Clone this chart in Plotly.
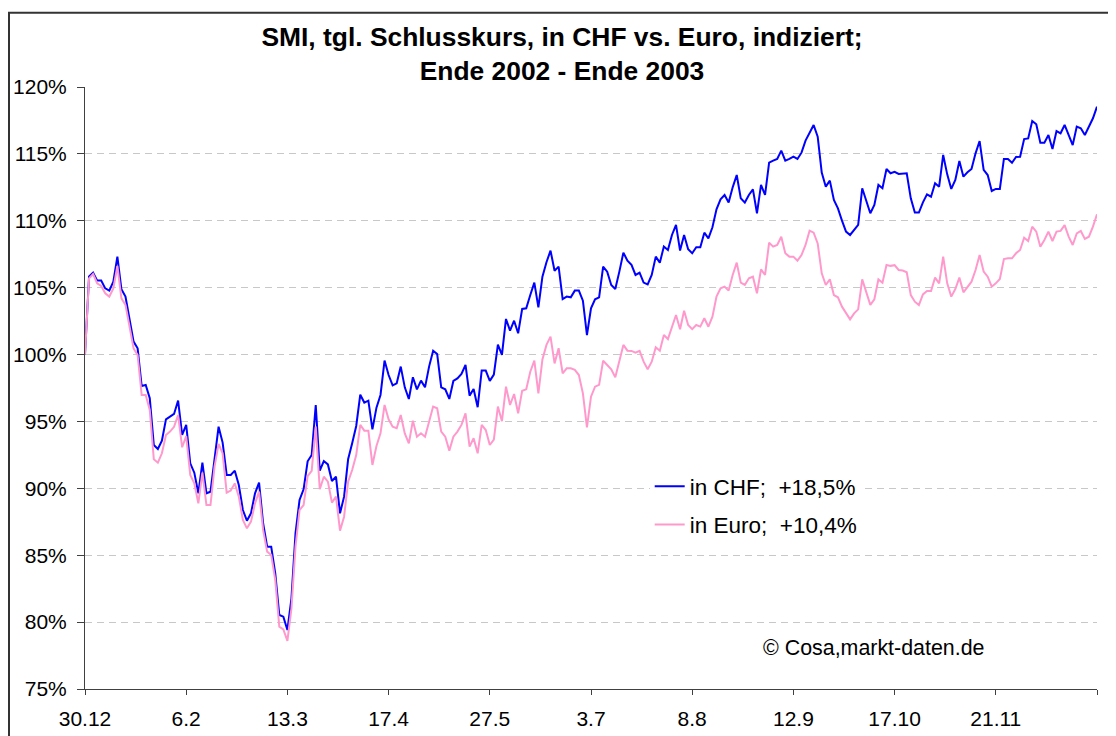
import plotly.graph_objects as go

# --- data ---
tick_labels = ["30.12", "6.2", "13.3", "17.4", "27.5", "3.7", "8.8", "12.9", "17.10", "21.11", ""]
tick_step = 25  # trading days between labelled ticks

chf = [
    100.0, 105.83, 106.12, 105.53, 105.53, 104.95, 104.78, 105.45, 107.32, 104.88,
    104.33, 102.71, 100.97, 100.47, 97.65, 97.73, 96.73, 93.24, 92.94, 93.57,
    95.16, 95.36, 95.56, 96.56, 93.99, 94.74, 91.87, 91.17, 89.63, 91.92,
    89.63, 89.75, 92.37, 94.61, 93.42, 91.0, 91.0, 91.32, 90.25, 88.38,
    87.58, 88.13, 89.63, 90.42, 87.39, 85.64, 85.64, 83.65, 80.53, 80.41,
    79.41, 81.78, 86.64, 89.13, 89.93, 92.02, 92.49, 96.23, 91.32, 92.04,
    91.79, 90.55, 90.87, 88.13, 89.38, 92.17, 93.37, 94.66, 97.0, 96.41,
    96.55, 94.41, 96.03, 96.98, 99.55, 98.47, 97.7, 97.85, 99.1, 97.55,
    96.68, 98.3, 97.4, 98.05, 97.55, 99.1, 100.29, 100.04, 97.55, 97.4,
    96.68, 98.03, 98.22, 98.55, 99.22, 96.93, 97.43, 96.06, 98.8, 98.8,
    98.03, 98.5, 100.74, 99.97, 102.66, 101.79, 102.53, 101.59, 103.41, 103.46,
    104.45, 105.38, 103.53, 105.82, 106.9, 107.77, 106.27, 106.57, 104.15, 104.33,
    104.28, 104.78, 104.78, 104.03, 101.46, 103.46, 104.13, 104.28, 106.57, 106.2,
    105.2, 104.9, 106.2, 107.62, 107.02, 106.7, 105.95, 106.12, 105.38, 105.25,
    105.95, 107.32, 106.87, 108.07, 107.82, 108.94, 109.69, 107.77, 108.94, 107.87,
    107.57, 108.02, 108.02, 109.11, 108.69, 109.51, 110.86, 111.6, 111.93, 111.36,
    112.5, 113.42, 111.68, 111.36, 111.93, 112.35, 110.56, 112.68, 111.93, 114.35,
    114.5, 114.62, 115.24, 114.5, 114.62, 114.79, 114.62, 115.09, 115.99, 116.59,
    117.16, 116.29, 113.6, 112.55, 113.0, 111.55, 110.93, 110.01, 109.19, 108.94,
    109.31, 109.69, 112.43, 111.5, 110.56, 111.18, 112.68, 112.43, 113.87, 113.55,
    113.66, 113.5, 113.5, 113.55, 111.68, 110.61, 110.61, 111.38, 111.98, 111.8,
    112.8, 112.55, 114.92, 113.47, 112.38, 113.05, 114.47, 113.3, 113.62, 113.87,
    115.04, 115.96, 113.8, 113.42, 112.23, 112.38, 112.38, 114.62, 114.62, 114.34,
    114.77, 114.79, 116.11, 116.16, 117.46, 117.21, 115.84, 115.84, 116.41, 115.37,
    116.71, 116.54, 117.16, 116.41, 115.66, 117.04, 116.91, 116.41, 117.04, 117.66,
    118.53,
]

euro = [
    100.0, 105.70, 106.02, 105.33, 105.13, 104.58, 104.33, 104.95, 106.62, 104.2,
    103.71, 102.21, 100.47, 99.97, 96.98, 96.98, 95.86, 92.17, 91.92, 92.62,
    93.99, 94.24, 94.6, 95.48, 93.07, 93.91, 91.0, 90.37, 88.88, 91.17,
    88.75, 88.75, 91.62, 93.32, 92.62, 89.68, 89.83, 90.37, 89.38, 87.63,
    87.01, 87.51, 88.88, 89.75, 86.89, 85.27, 85.02, 83.15, 79.66, 79.46,
    78.6, 81.03, 85.64, 88.38, 88.75, 90.92, 91.3, 94.61, 89.93, 90.87,
    90.5, 88.93, 89.38, 86.84, 87.88, 90.5, 91.37, 92.49, 94.74, 94.31,
    94.31, 91.75, 93.17, 94.11, 96.23, 95.16, 94.61, 94.49, 95.48, 94.11,
    93.36, 95.06, 93.86, 94.11, 93.86, 94.98, 96.11, 95.98, 94.24, 93.86,
    92.82, 93.86, 94.24, 94.74, 95.61, 93.12, 93.74, 92.62, 94.74, 94.36,
    93.24, 93.64, 96.11, 95.02, 97.6, 96.23, 97.05, 95.61, 97.3, 97.4,
    98.72, 99.54, 97.1, 99.64, 100.72, 101.34, 99.34, 100.47, 98.6, 98.97,
    98.97, 98.85, 98.47, 97.1, 94.56, 96.85, 97.6, 97.73, 99.54, 99.22,
    98.9, 98.3, 99.47, 100.72, 100.29, 100.27, 100.14, 100.27, 99.47, 98.9,
    99.47, 100.54, 100.29, 101.46, 101.16, 102.14, 102.96, 101.89, 103.28, 102.21,
    101.9, 102.21, 102.09, 102.71, 102.08, 102.83, 104.33, 104.95, 105.08, 104.78,
    105.95, 106.87, 105.37, 105.2, 105.7, 105.82, 104.58, 106.37, 105.95, 108.36,
    108.07, 108.19, 108.81, 107.57, 107.32, 107.32, 107.02, 107.44, 108.19, 109.26,
    109.11, 108.31, 106.07, 105.2, 105.62, 104.45, 104.28, 103.58, 103.08, 102.63,
    103.08, 103.38, 105.62, 104.58, 103.71, 104.13, 105.62, 105.37, 106.7, 106.63,
    106.68, 106.32, 106.28, 106.15, 104.45, 103.95, 103.7, 104.5, 104.75, 104.75,
    105.75, 105.32, 107.32, 105.32, 104.33, 104.9, 105.75, 104.65, 105.07, 105.45,
    106.32, 107.44, 106.2, 105.82, 105.07, 105.32, 105.65, 107.14, 107.19, 107.19,
    107.57, 107.82, 108.74, 108.49, 109.56, 109.19, 108.06, 108.56, 109.19, 108.49,
    109.19, 109.24, 109.68, 108.81, 108.19, 109.06, 109.24, 108.64, 108.81, 109.56,
    110.48,
]

series_names = ["in CHF;\u00a0\u00a0+18,5%", "in Euro;\u00a0\u00a0+10,4%"]
y_ticks = [75, 80, 85, 90, 95, 100, 105, 110, 115, 120]
y_tick_text = [f"{v}%" for v in y_ticks]

days = list(range(len(chf)))
tick_vals = [i * tick_step for i in range(len(tick_labels))]

FONT = "Liberation Sans, Arial, sans-serif"

# The page body adds an 8px margin, so the figure is 8px smaller than the window.
W, H = 1108, 728

fig = go.Figure()
fig.add_trace(go.Scatter(x=days, y=chf, mode="lines", name=series_names[0],
                         legendgroup="a", line=dict(color="#0000FF", width=2)))
fig.add_trace(go.Scatter(x=days, y=euro, mode="lines", name=series_names[1],
                         legendgroup="b", line=dict(color="#FF99CC", width=2)))

fig.update_layout(
    width=W, height=H,
    margin=dict(l=77, r=19, t=79, b=47, pad=0),
    paper_bgcolor="white", plot_bgcolor="white",
    font=dict(family=FONT, size=21, color="black"),
    title=dict(
        text="<b>SMI, tgl. Schlusskurs, in CHF vs. Euro, indiziert;<br>Ende 2002 - Ende 2003</b>",
        x=0.5, xref="container", xanchor="center",
        y=1 - 38 / H, yref="container", yanchor="middle",
        font=dict(family=FONT, size=26.4, color="black"),
    ),
    legend=dict(
        x=0.558, y=0.372, xanchor="left", yanchor="top",
        bgcolor="white", borderwidth=0,
        font=dict(family=FONT, size=22.5, color="black"),
        tracegroupgap=6,
    ),
    showlegend=True,
)

fig.update_xaxes(
    range=[0, 250], tickmode="array", tickvals=tick_vals, ticktext=tick_labels,
    showgrid=False, showline=True, linecolor="#404040", linewidth=1,
    ticks="outside", ticklen=5, tickcolor="#404040", tickwidth=1,
    ticklabelstandoff=6, zeroline=False, automargin=False,
)
fig.update_yaxes(
    range=[75, 120], tickmode="array", tickvals=y_ticks, ticktext=y_tick_text,
    showgrid=True, gridcolor="#c8c8c8", griddash="7px,5px", gridwidth=1,
    showline=True, linecolor="#404040", linewidth=1,
    ticks="outside", ticklen=7, tickcolor="#404040", tickwidth=1,
    ticklabelstandoff=6, zeroline=False, automargin=False,
)

fig.add_annotation(
    text="\u00a9 Cosa,markt-daten.de", xref="paper", yref="paper",
    x=0.7796, y=0.068, xanchor="center", yanchor="middle", showarrow=False,
    font=dict(family=FONT, size=21.4, color="black"),
)

# outer frame of the chart area (cropped on right and bottom)
fig.add_shape(type="rect", xref="paper", yref="paper",
              x0=-0.0751, x1=1.05, y0=-0.2, y1=1.1234,
              line=dict(color="#333333", width=2), fillcolor="rgba(0,0,0,0)", layer="below")

fig.write_html("out.html")
